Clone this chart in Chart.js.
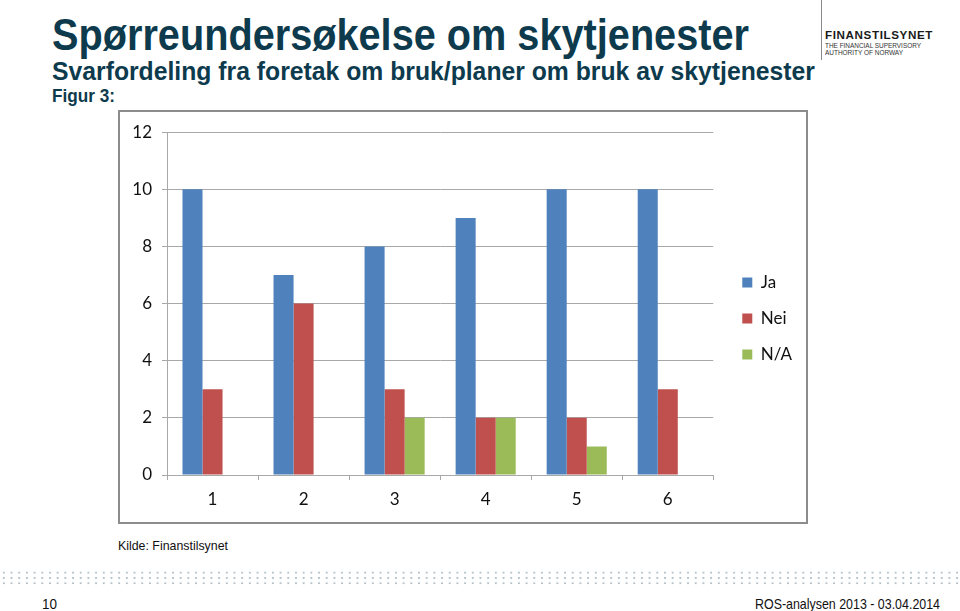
<!DOCTYPE html>
<html>
<head>
<meta charset="utf-8">
<script src="https://cdn.jsdelivr.net/npm/chart.js@4.4.1/dist/chart.umd.min.js"></script>
<style>
  html, body { margin:0; padding:0; background:#fff; }
  body { width:960px; height:611px; position:relative; overflow:hidden; font-family:"Liberation Sans", Arial, sans-serif; }
  .fit { position:absolute; white-space:nowrap; transform-origin:0 0; }
  #title { left:52px; top:9px; font-size:45px; font-weight:bold; color:#0d3b4d; line-height:52px; }
  #sub { left:52px; top:56px; font-size:26px; font-weight:bold; color:#0d3b4d; line-height:30px; }
  #fig { left:52px; top:86px; font-size:18px; font-weight:bold; color:#0d3b4d; line-height:20px; }
  #vline { position:absolute; left:821px; top:0; width:1px; height:60px; background:#8a8a8a; }
  #logo1 { left:825px; top:29px; font-size:11.5px; font-weight:bold; color:#1a1a1a; letter-spacing:0.6px; }
  #logo2 { left:825px; top:42px; font-size:7px; color:#333; }
  #logo3 { left:825px; top:49px; font-size:7px; color:#333; }
  #box { position:absolute; left:118px; top:110px; width:686px; height:410px; border:2px solid #8c8c8c; }
  #c { position:absolute; left:120px; top:112px; }
  #kilde { left:118px; top:538px; font-size:13px; color:#111; }
  #dots { position:absolute; left:0; top:570px; width:960px; height:16px;
          background-image:radial-gradient(circle, #b4c2cb 0.9px, transparent 1.3px);
          background-size:7.7px 5.3px; }
  #pnum { left:42px; top:595px; font-size:15px; color:#111; }
  #foot { left:755px; top:595px; font-size:15px; color:#111; }
</style>
</head>
<body>
<div id="title" class="fit" data-w="697">Spørreundersøkelse om skytjenester</div>
<div id="sub" class="fit" data-w="763">Svarfordeling fra foretak om bruk/planer om bruk av skytjenester</div>
<div id="fig" class="fit" data-w="63">Figur 3:</div>
<div id="vline"></div>
<div id="logo1" class="fit" data-w="108">FINANSTILSYNET</div>
<div id="logo2" class="fit" data-w="96">THE FINANCIAL SUPERVISORY</div>
<div id="logo3" class="fit" data-w="78">AUTHORITY OF NORWAY</div>
<div id="box"></div>
<canvas id="c" width="686" height="410"></canvas>
<div id="kilde" class="fit" data-w="110">Kilde: Finanstilsynet</div>
<div id="dots"></div>
<div id="pnum" class="fit" data-w="15">10</div>
<div id="foot" class="fit" data-w="185">ROS-analysen 2013 - 03.04.2014</div>
<script>
// ---- data ----
const categories = ["1", "2", "3", "4", "5", "6"];
const seriesNames = ["Ja", "Nei", "N/A"];
const jaValues  = [10, 7, 8, 9, 10, 10];
const neiValues = [3, 6, 3, 2, 2, 3];
const naValues  = [null, null, 2, 2, 1, null];
const yTicks = [0, 2, 4, 6, 8, 10, 12];

// fit text widths
document.querySelectorAll('.fit').forEach(el => {
  const target = parseFloat(el.dataset.w);
  const w = el.getBoundingClientRect().width;
  if (w > 0) el.style.transform = 'scaleX(' + (target / w) + ')';
});

const gridColor = '#a8a8a8';
const fontFam = 'Lato, "Open Sans", sans-serif';

new Chart(document.getElementById('c'), {
  type: 'bar',
  data: {
    labels: categories,
    datasets: [
      { label: seriesNames[0], data: jaValues,  backgroundColor: '#4F81BD' },
      { label: seriesNames[1], data: neiValues, backgroundColor: '#C0504D' },
      { label: seriesNames[2], data: naValues,  backgroundColor: '#9BBB59' }
    ]
  },
  options: {
    responsive: false,
    animation: false,
    events: [],
    layout: { padding: { top: 19, right: 4, bottom: 16, left: 0 } },
    datasets: { bar: { categoryPercentage: 0.66, barPercentage: 1.0 } },
    plugins: {
      legend: {
        position: 'right',
        align: 'center',
        labels: {
          boxWidth: 10, boxHeight: 10, padding: 19,
          color: '#111',
          font: { family: fontFam, size: 17 }
        }
      },
      tooltip: { enabled: false }
    },
    scales: {
      x: {
        grid: { display: true, drawOnChartArea: false, drawTicks: true, tickLength: 5, color: gridColor, offset: true },
        border: { display: true, color: gridColor, width: 1 },
        ticks: { color: '#111', font: { family: fontFam, size: 17 }, padding: 9 },
        afterFit: s => { s.height = 31; }
      },
      y: {
        min: 0, max: 12,
        afterBuildTicks: s => { s.ticks = yTicks.map(v => ({ value: v })); },
        grid: { color: gridColor, lineWidth: 1, tickLength: 5 },
        border: { display: true, color: gridColor, width: 1 },
        ticks: { color: '#111', font: { family: fontFam, size: 17 }, padding: 10 },
        afterFit: s => { s.width = 47; }
      },
      gap: {
        type: 'linear', position: 'right', display: true,
        grid: { display: false, drawTicks: false },
        border: { display: false },
        ticks: { display: false },
        afterFit: s => { s.width = 10; }
      }
    }
  }
});
</script>
</body>
</html>
